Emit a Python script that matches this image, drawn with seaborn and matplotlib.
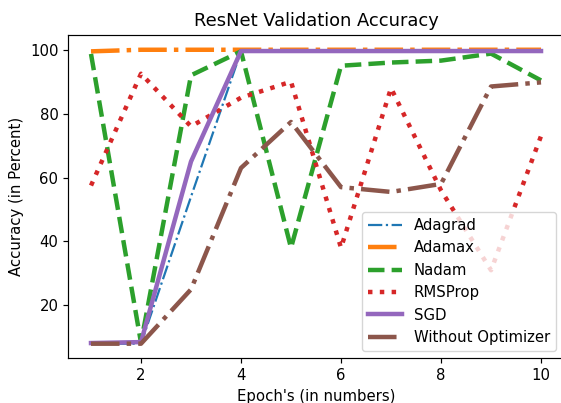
import matplotlib
matplotlib.use("Agg")
import matplotlib.pyplot as plt
import seaborn as sns
import pandas as pd

epochs = [1, 2, 3, 4, 5, 6, 7, 8, 9, 10]
adagrad = [8, 8, 54, 99.5, 99.8, 99.8, 99.8, 99.8, 99.8, 99.8]
adamax = [99.5, 100, 100, 100, 100, 100, 100, 100, 100, 100]
nadam = [98.7, 8.3, 92, 99.5, 38, 95, 96, 96.6, 98.8, 90.4]
rmsprop = [57.5, 92.5, 76, 85, 90, 38, 88, 56, 31, 73]
sgd = [8.2, 8.5, 65, 99.6, 99.6, 99.6, 99.6, 99.6, 99.6, 99.6]
without_opt = [8, 8, 25, 63, 77.4, 57, 55.5, 58, 88.5, 89.8]

series_names = ["Adagrad", "Adamax", "Nadam", "RMSProp", "SGD", "Without Optimizer"]
series_values = [adagrad, adamax, nadam, rmsprop, sgd, without_opt]
colors = ["#1f77b4", "#ff7f0e", "#2ca02c", "#d62728", "#9467bd", "#8c564b"]
styles = ["-.", "-.", "--", ":", "-", "-."]
s = 1.07
widths = [1.5 * s, 3 * s, 3 * s, 3 * s, 3 * s, 3 * s]

plt.rcParams["axes.linewidth"] = 0.8 * s
plt.rcParams["xtick.major.width"] = 0.8 * s
plt.rcParams["ytick.major.width"] = 0.8 * s
plt.rcParams["xtick.major.size"] = 3.5 * s
plt.rcParams["ytick.major.size"] = 3.5 * s

fig = plt.figure(figsize=(5.61, 4.03), dpi=100)
ax = fig.add_axes([0.1221, 0.1107, 0.8824, 0.8023])

for name, vals, c, ls, lw in zip(series_names, series_values, colors, styles, widths):
    df = pd.DataFrame({"epoch": epochs, "acc": vals})
    sns.lineplot(data=df, x="epoch", y="acc", ax=ax, label=name, color=c,
                 linestyle=ls, linewidth=lw)

ax.set_xlim(0.55, 10.45)
ax.set_ylim(3.4, 104.6)
ax.set_xticks([2, 4, 6, 8, 10])
ax.set_yticks([20, 40, 60, 80, 100])
ax.tick_params(labelsize=10 * s)
ax.set_title("ResNet Validation Accuracy", fontsize=12 * s, pad=6 * s)
ax.set_xlabel("Epoch's (in numbers)", fontsize=10 * s)
ax.set_ylabel("Accuracy (in Percent)", fontsize=10 * s)
ax.legend(loc="lower right", fontsize=10 * s, handlelength=2.3)

fig.savefig("out.png", dpi=100)
